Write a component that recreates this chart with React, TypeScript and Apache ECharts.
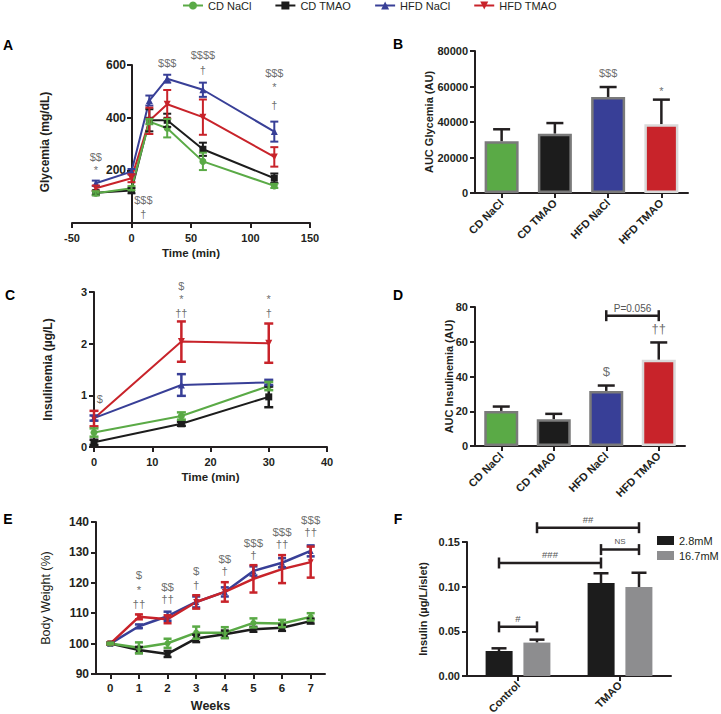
import React, { useEffect, useRef } from 'react';
import * as echarts from 'echarts';

const FONT = '"Liberation Sans", Arial, Helvetica, sans-serif';
const INK = '#231f20';
const ANN = '#474747';

// groups
const groupNames = ['CD NaCl', 'CD TMAO', 'HFD NaCl', 'HFD TMAO'];
const groupColors = ['#5aaa46', '#1c1c1c', '#383f97', '#c8232a'];
const groupSymbols = ['circle', 'rect', 'triangle', 'triangle'];
const groupSymbolRotate = [0, 0, 0, 180];
const groupBarBorders = ['#7a7a7a', '#7a7a7a', '#7a7a7a', '#d9d9d9'];
const drawOrder = [1, 2, 3, 0];

// Panel A: glycemia (mg/dL) vs time (min)
const glyTime = [-30, 0, 15, 30, 60, 120];
const glyCDNaCl = [113, 132, 385, 360, 234, 141];
const glyCDNaClSem = [8, 8, 10, 35, 33, 8];
const glyCDTMAO = [115, 123, 390, 390, 280, 170];
const glyCDTMAOSem = [8, 10, 42, 25, 25, 18];
const glyHFDNaCl = [151, 195, 465, 548, 506, 347];
const glyHFDNaClSem = [10, 10, 19, 15, 27, 38];
const glyHFDTMAO = [132, 170, 388, 451, 402, 251];
const glyHFDTMAOSem = [10, 15, 50, 54, 67, 37];
const glyMarks: [number, number, string][] = [
  [-30, 250, '$$'], [-30, 203, '*'], [10, 88, '$$$'], [10, 36, '†'],
  [30, 609, '$$$'], [60, 638, '$$$$'], [60, 581, '†'],
  [120, 571, '$$$'], [120, 515, '*'], [120, 448, '†'],
];

// Panel B: AUC glycemia
const aucGly = [29100, 33450, 54100, 38700];
const aucGlySem = [6800, 5950, 5600, 13900];
const aucGlyMarks: [number, number, string][] = [[2, 67500, '$$$'], [3, 57300, '*']];

// Panel C: insulinemia (µg/L) vs time (min)
const insTime = [0, 15, 30];
const insCDNaCl = [0.28, 0.6, 1.18];
const insCDNaClSem = [0.08, 0.07, 0.08];
const insCDTMAO = [0.09, 0.45, 0.97];
const insCDTMAOSem = [0.05, 0.04, 0.2];
const insHFDNaCl = [0.56, 1.2, 1.25];
const insHFDNaClSem = [0.05, 0.21, 0.05];
const insHFDTMAO = [0.55, 2.04, 2.01];
const insHFDTMAOSem = [0.15, 0.39, 0.38];
const insMarks: [number, number, string][] = [
  [1, 0.92, '$'], [15, 3.12, '$'], [15, 2.87, '*'], [15, 2.6, '††'], [30, 2.87, '*'], [30, 2.6, '†'],
];

// Panel D: AUC insulinemia
const aucIns = [20.2, 15.4, 31.7, 49.6];
const aucInsSem = [2.5, 3.1, 3.1, 10];
const aucInsMarks: [number, number, string][] = [[2, 43, '$'], [3, 67.5, '††']];
const aucInsBrackets: [number, number, number, string][] = [[2, 3, 75, 'P=0.056']];

// Panel E: body weight (%) vs weeks
const weekLabels = ['0', '1', '2', '3', '4', '5', '6', '7'];
const bwCDNaCl = [100, 98.6, 100.1, 103.6, 103.6, 106.8, 106.6, 108.8];
const bwCDNaClSem = [0.3, 1.8, 1.5, 2, 1.8, 1.5, 1.2, 1.2];
const bwCDTMAO = [100, 97.9, 96.6, 101.7, 103.1, 104.7, 105.2, 107.4];
const bwCDTMAOSem = [0.3, 1, 1, 1.2, 1.2, 0.8, 1, 0.8];
const bwHFDNaCl = [100, 105.7, 109.0, 113.7, 117.0, 123.9, 126.6, 130.5];
const bwHFDNaClSem = [0.3, 0.6, 1.5, 1.8, 1.5, 1.5, 1.5, 1.8];
const bwHFDTMAO = [100, 108.8, 108.0, 113.7, 117.0, 121.3, 124.5, 126.8];
const bwHFDTMAOSem = [0.3, 0.8, 1.3, 2.2, 3.2, 4.5, 4.6, 5.1];
const bwMarks: [number, number, string][] = [
  [1, 122.5, '$'], [1, 117.6, '*'], [1, 112.9, '††'],
  [2, 118.6, '$$'], [2, 114.6, '††'],
  [3, 123.8, '$'], [3, 119.2, '†'],
  [4, 127.7, '$$'], [4, 123.9, '†'],
  [5, 133.2, '$$$'], [5, 129.0, '†'],
  [6, 136.7, '$$$'], [6, 132.9, '††'],
  [7, 140.5, '$$$'], [7, 136.7, '††'],
];

// Panel F: islet insulin secretion
const islCats = ['Control', 'TMAO'];
const islNames = ['2.8mM', '16.7mM'];
const islColors = ['#1c1c1c', '#8d8d8f'];
const isl28 = [0.028, 0.104];
const isl28Sem = [0.003, 0.011];
const isl167 = [0.0374, 0.0996];
const isl167Sem = [0.0033, 0.016];
const islBrackets: { from: [number, number]; to: [number, number]; y: number; text: string }[] = [
  { from: [0, 0], to: [0, 1], y: 0.055, text: '#' },
  { from: [0, 0], to: [1, 0], y: 0.1265, text: '###' },
  { from: [1, 0], to: [1, 1], y: 0.1415, text: 'NS' },
  { from: [0, 1], to: [1, 1], y: 0.166, text: '##' },
];

const axLine = { color: INK, width: 2 };

function valueAxis(grid: number, min: number, max: number, interval: number, extra: any = {}) {
  const { axisLabel, nameTextStyle, ...rest } = extra;
  return {
    type: 'value', gridIndex: grid, min, max, interval,
    axisLine: { show: true, onZero: true, lineStyle: axLine },
    axisTick: { show: true, inside: false, length: 5, lineStyle: axLine },
    axisLabel: { show: true, color: INK, fontFamily: FONT, fontWeight: 'bold', fontSize: 11, margin: 7, formatter: (v: number) => String(v), ...(axisLabel || {}) },
    splitLine: { show: false },
    nameLocation: 'middle',
    nameMoveOverlap: false,
    nameTextStyle: { color: INK, fontFamily: FONT, fontWeight: 'bold', fontSize: 12, ...(nameTextStyle || {}) },
    ...rest,
  };
}

function catAxis(grid: number, data: string[], extra: any = {}) {
  const { axisLabel, nameTextStyle, ...rest } = extra;
  return {
    type: 'category', gridIndex: grid, data, boundaryGap: true,
    axisLine: { show: true, onZero: false, lineStyle: axLine },
    axisTick: { show: true, inside: false, length: 5, alignWithLabel: true, lineStyle: axLine },
    axisLabel: { show: true, color: INK, fontFamily: FONT, fontWeight: 'bold', fontSize: 11, margin: 8, interval: 0, ...(axisLabel || {}) },
    splitLine: { show: false },
    nameLocation: 'middle',
    nameMoveOverlap: false,
    nameTextStyle: { color: INK, fontFamily: FONT, fontWeight: 'bold', fontSize: 12, ...(nameTextStyle || {}) },
    ...rest,
  };
}

const errRender = (color: string, cap: number, width: number) => (params: any, api: any) => {
  const x = api.value(0);
  const lo = api.coord([x, api.value(1)]);
  const hi = api.coord([x, api.value(2)]);
  const st = { stroke: color, lineWidth: width };
  return {
    type: 'group',
    children: [
      { type: 'line', shape: { x1: lo[0], y1: lo[1], x2: hi[0], y2: hi[1] }, style: st },
      { type: 'line', shape: { x1: lo[0] - cap, y1: lo[1], x2: lo[0] + cap, y2: lo[1] }, style: st },
      { type: 'line', shape: { x1: hi[0] - cap, y1: hi[1], x2: hi[0] + cap, y2: hi[1] }, style: st },
    ],
  };
};

const barErrRender = (offset: number, cap: number) => (params: any, api: any) => {
  const c = api.value(0);
  const base = api.coord([c, api.value(1)]);
  const top = api.coord([c, api.value(2)]);
  const x = base[0] + offset;
  const st = { stroke: INK, lineWidth: 2.5 };
  return {
    type: 'group',
    children: [
      { type: 'line', shape: { x1: x, y1: base[1], x2: x, y2: top[1] }, style: st },
      { type: 'line', shape: { x1: x - cap, y1: top[1], x2: x + cap, y2: top[1] }, style: st },
    ],
  };
};

function textEl(x: number, y: number, text: string, size: number, color: string) {
  return {
    type: 'text', x, y,
    style: {
      text, fill: color, textFill: color, font: `${size}px ${FONT}`,
      textAlign: 'center', textVerticalAlign: 'middle',
    },
  };
}

// significance marks drawn as labels of invisible scatter points
function annSeries(axis: number, marks: [number, number, string][], size: number) {
  return {
    type: 'scatter', xAxisIndex: axis, yAxisIndex: axis, silent: true, clip: false,
    symbol: 'circle', symbolSize: 0,
    itemStyle: { color: 'rgba(0,0,0,0)' },
    data: marks.map((m) => ({ value: [m[0], m[1]], name: m[2] })),
    label: {
      show: true, position: 'inside', formatter: (p: any) => marks[p.dataIndex][2], color: ANN,
      fontFamily: FONT, fontSize: size, fontWeight: 'normal',
    },
    emphasis: { disabled: true },
    z: 6,
  };
}

function bracketGroup(x1: number, x2: number, y: number, text: string, size: number, tick: number, lift: number) {
  const st = { stroke: INK, lineWidth: 2.5 };
  return {
    type: 'group',
    children: [
      { type: 'line', shape: { x1, y1: y, x2, y2: y }, style: st },
      { type: 'line', shape: { x1, y1: y - tick, x2: x1, y2: y + tick }, style: st },
      { type: 'line', shape: { x1: x2, y1: y - tick, x2, y2: y + tick }, style: st },
      textEl((x1 + x2) / 2, y - lift, text, size, '#555555'),
    ],
  };
}

function lineGroupSeries(axis: number, xs: (number | null)[], means: number[][], sems: number[][], symSize: number, lw: number, cap: number, errW: number) {
  const out: any[] = [];
  drawOrder.forEach((g) => {
    out.push({
      type: 'line', name: groupNames[g], xAxisIndex: axis, yAxisIndex: axis,
      data: means[g].map((v, i) => [xs[i] === null ? i : xs[i], v]),
      symbol: groupSymbols[g], symbolSize: symSize, symbolRotate: groupSymbolRotate[g],
      showSymbol: true,
      lineStyle: { color: groupColors[g], width: lw },
      itemStyle: { color: groupColors[g] },
      z: 3, silent: true,
    });
    out.push({
      type: 'custom', xAxisIndex: axis, yAxisIndex: axis,
      itemStyle: { color: groupColors[g] },
      data: means[g].map((v, i) => [xs[i] === null ? i : xs[i], v - sems[g][i], v + sems[g][i]]),
      encode: { x: 0, y: [1, 2] },
      renderItem: errRender(groupColors[g], cap, errW),
      z: 4, silent: true,
    });
  });
  return out;
}

function buildOption(): any {
  const glyMeans = [glyCDNaCl, glyCDTMAO, glyHFDNaCl, glyHFDTMAO];
  const glySems = [glyCDNaClSem, glyCDTMAOSem, glyHFDNaClSem, glyHFDTMAOSem];
  const insMeans = [insCDNaCl, insCDTMAO, insHFDNaCl, insHFDTMAO];
  const insSems = [insCDNaClSem, insCDTMAOSem, insHFDNaClSem, insHFDTMAOSem];
  const bwMeans = [bwCDNaCl, bwCDTMAO, bwHFDNaCl, bwHFDTMAO];
  const bwSems = [bwCDNaClSem, bwCDTMAOSem, bwHFDNaClSem, bwHFDTMAOSem];
  const weekIdx = weekLabels.map(() => null);
  const islMeans = [isl28, isl167];
  const islSems = [isl28Sem, isl167Sem];

  const gridBase = { show: false, containLabel: false, outerBoundsMode: 'none' };

  const series: any[] = [];
  // A
  series.push(...lineGroupSeries(0, glyTime, glyMeans, glySems, 7, 2, 4, 2));
  series.push(annSeries(0, glyMarks, 11));
  // B
  series.push({
    type: 'bar', xAxisIndex: 1, yAxisIndex: 1, barWidth: 34, silent: true,
    data: aucGly.map((v, i) => ({ value: v, itemStyle: { color: groupColors[i], borderColor: groupBarBorders[i], borderWidth: 2.5 } })),
  });
  series.push({
    type: 'custom', xAxisIndex: 1, yAxisIndex: 1, silent: true, itemStyle: { color: INK },
    data: aucGly.map((v, i) => [i, v, v + aucGlySem[i]]), encode: { x: 0, y: [1, 2] },
    renderItem: barErrRender(0, 8.5), z: 1,
  });
  series.push(annSeries(1, aucGlyMarks, 11));
  // C
  series.push(...lineGroupSeries(2, insTime, insMeans, insSems, 7, 2, 4.5, 2.5));
  series.push(annSeries(2, insMarks, 11));
  // D
  series.push({
    type: 'bar', xAxisIndex: 3, yAxisIndex: 3, barWidth: 34, silent: true,
    data: aucIns.map((v, i) => ({ value: v, itemStyle: { color: groupColors[i], borderColor: groupBarBorders[i], borderWidth: 2.5 } })),
  });
  series.push({
    type: 'custom', xAxisIndex: 3, yAxisIndex: 3, silent: true, itemStyle: { color: INK },
    data: aucIns.map((v, i) => [i, v, v + aucInsSem[i]]), encode: { x: 0, y: [1, 2] },
    renderItem: barErrRender(0, 8.5), z: 1,
  });
  series.push(annSeries(3, aucInsMarks, 13));
  series.push({
    type: 'custom', xAxisIndex: 3, yAxisIndex: 3, silent: true, itemStyle: { color: '#555555' },
    data: aucInsBrackets.map((b) => [b[0], b[2]]),
    renderItem: (params: any, api: any) => {
      const b = aucInsBrackets[params.dataIndex];
      const p1 = api.coord([b[0], b[2]]);
      const p2 = api.coord([b[1], b[2]]);
      return bracketGroup(p1[0], p2[0], p1[1], b[3], 10, 5.5, 7.5);
    },
    z: 6,
  });
  // E
  series.push(...lineGroupSeries(4, weekIdx, bwMeans, bwSems, 6, 2.5, 4, 2.5));
  series.push(annSeries(4, bwMarks, 11.5));
  // F
  [0, 1].forEach((k) => {
    series.push({
      type: 'bar', name: islNames[k], xAxisIndex: 5, yAxisIndex: 5, barWidth: 27, barGap: '40%', silent: true,
      itemStyle: { color: islColors[k] },
      data: islMeans[k],
    });
  });
  [0, 1].forEach((k) => {
    series.push({
      type: 'custom', xAxisIndex: 5, yAxisIndex: 5, silent: true, itemStyle: { color: INK },
      data: islMeans[k].map((v, i) => [i, v, v + islSems[k][i]]), encode: { x: 0, y: [1, 2] },
      renderItem: barErrRender(k === 0 ? -19 : 19, 7.5), z: 1,
    });
  });
  series.push({
    type: 'custom', xAxisIndex: 5, yAxisIndex: 5, silent: true, itemStyle: { color: '#555555' },
    data: islBrackets.map((b) => [b.from[0], b.y]),
    renderItem: (params: any, api: any) => {
      const b = islBrackets[params.dataIndex];
      const y = api.coord([0, b.y])[1];
      const x1 = api.coord([b.from[0], b.y])[0] + (b.from[1] - 0.5) * 38;
      const x2 = api.coord([b.to[0], b.y])[0] + (b.to[1] - 0.5) * 38;
      return bracketGroup(x1, x2, y, b.text, b.text === 'NS' ? 8 : 9.5, 5.5, 8);
    },
    z: 6,
  });

  const letters: [string, number, number][] = [
    ['A', 8, 45], ['B', 398, 44], ['C', 10, 295], ['D', 398, 295], ['E', 8, 519], ['F', 398, 519],
  ];

  const graphic: any[] = letters.map(([t, x, y]) => ({
    type: 'text', x, y, silent: true,
    style: { text: t, fill: '#000000', font: `bold 14px ${FONT}`, textAlign: 'center', textVerticalAlign: 'middle' },
  }));
  graphic.push({
    type: 'text', x: 45, y: 142, rotation: Math.PI / 2, silent: true,
    style: { text: 'Glycemia (mg/dL)', fill: INK, font: `bold 12px ${FONT}`, textAlign: 'center', textVerticalAlign: 'middle' },
  });

  return {
    animation: false,
    backgroundColor: '#ffffff',
    textStyle: { fontFamily: FONT },
    legend: [
      {
        data: groupNames, left: 182, top: 0, padding: 0, itemWidth: 20, itemHeight: 10, itemGap: 23,
        textStyle: { fontSize: 11, color: INK, fontFamily: FONT }, selectedMode: false,
      },
      {
        data: islNames, orient: 'vertical', left: 657, top: 535, padding: 0, itemWidth: 17, itemHeight: 9, itemGap: 4,
        icon: 'rect', textStyle: { fontSize: 11, color: INK, fontFamily: FONT }, selectedMode: false,
      },
    ],
    grid: [
      { ...gridBase, left: 72, top: 65, width: 238, height: 158 },
      { ...gridBase, left: 475, top: 51, width: 213, height: 142 },
      { ...gridBase, left: 94, top: 292, width: 233, height: 155 },
      { ...gridBase, left: 475, top: 307, width: 210, height: 139 },
      { ...gridBase, left: 96, top: 522, width: 229, height: 152 },
      { ...gridBase, left: 467, top: 542, width: 204, height: 134 },
      // panel A's y axis sits at time 0
      { ...gridBase, left: 132, top: 65, width: 178, height: 158 },
    ],
    xAxis: [
      valueAxis(0, -50, 150, 50, { name: 'Time (min)', nameGap: 24, nameTextStyle: { fontSize: 11.5 }, axisLabel: { margin: 9 } }),
      catAxis(1, groupNames, { axisLabel: { rotate: 45, margin: 8 } }),
      valueAxis(2, 0, 40, 10, { name: 'Time (min)', nameGap: 24, nameTextStyle: { fontSize: 11.5 }, axisLabel: { margin: 9 } }),
      catAxis(3, groupNames, { axisLabel: { rotate: 45, margin: 8 } }),
      catAxis(4, weekLabels, { name: 'Weeks', nameGap: 25, nameTextStyle: { fontSize: 12.5 }, axisLabel: { margin: 8, fontSize: 11.5 } }),
      catAxis(5, islCats, { axisLabel: { rotate: 45, margin: 7 } }),
      { type: 'value', gridIndex: 6, min: 0, max: 150, show: false },
    ],
    yAxis: [
      { type: 'value', gridIndex: 0, min: 0, max: 600, interval: 200, show: false },
      valueAxis(1, 0, 80000, 20000, { name: 'AUC Glycemia (AU)', nameGap: 41, nameTextStyle: { fontSize: 11 } }),
      valueAxis(2, 0, 3, 1, { name: 'Insulinemia (µg/L)', nameGap: 40 }),
      valueAxis(3, 0, 80, 20, { name: 'AUC Insulinemia (AU)', nameGap: 21, nameTextStyle: { fontSize: 11 } }),
      valueAxis(4, 90, 140, 10, { name: 'Body Weight (%)', nameGap: 44, nameTextStyle: { fontWeight: 'normal', fontSize: 12.5 }, axisLabel: { fontSize: 12 } }),
      valueAxis(5, 0, 0.15, 0.05, { name: 'Insulin (µg/L/islet)', nameGap: 39, nameTextStyle: { fontSize: 11 }, axisLabel: { formatter: (v: number) => v.toFixed(2) } }),
      valueAxis(6, 0, 600, 200, { axisLabel: { showMinLabel: false, fontSize: 12, margin: 6 } }),
    ],
    graphic,
    series,
  };
}

export default function App() {
  const ref = useRef<HTMLDivElement>(null);
  useEffect(() => {
    if (!ref.current) return;
    const chart = echarts.init(ref.current, null, { renderer: 'svg' });
    chart.setOption(buildOption());
    return () => chart.dispose();
  }, []);
  return <div ref={ref} style={{ position: 'absolute', left: 0, top: 0, width: 721, height: 714 }} />;
}
